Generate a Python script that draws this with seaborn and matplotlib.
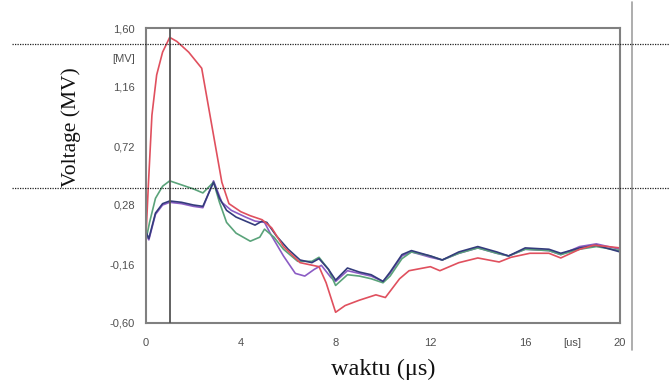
import numpy as np
import pandas as pd
import matplotlib
matplotlib.use("Agg")
import matplotlib.pyplot as plt
import seaborn as sns
from matplotlib.lines import Line2D

# ---- data ----
x_red = [0, 0.1, 0.25, 0.45, 0.7, 1.0, 1.3, 1.8, 2.35, 2.7, 3.2, 3.5, 4.0, 4.4, 4.9, 5.3, 5.8, 6.5,
         7.3, 7.6, 8.0, 8.4, 9.0, 9.7, 10.1, 10.7, 11.1, 12.0, 12.4, 13.2, 14.0, 14.9, 15.4,
         16.2, 17.0, 17.5, 18.3, 18.9, 19.5, 20.0]
y_red = [0.05, 0.43, 0.95, 1.25, 1.42, 1.53, 1.50, 1.42, 1.30, 0.95, 0.45, 0.29, 0.23, 0.20, 0.17,
         0.11, -0.03, -0.15, -0.18, -0.30, -0.52, -0.47, -0.43, -0.39, -0.41, -0.27, -0.21,
         -0.18, -0.21, -0.15, -0.115, -0.145, -0.11, -0.08, -0.08, -0.115, -0.05, -0.02, -0.03, -0.04]

x_green = [0, 0.15, 0.4, 0.7, 1.0, 1.5, 2.0, 2.4, 2.85, 3.1, 3.4, 3.8, 4.4, 4.8, 5.0, 5.4, 5.8, 6.4,
           7.0, 7.3, 7.7, 8.0, 8.5, 9.0, 9.5, 10.0, 10.3, 10.8, 11.2, 12.0, 12.5, 13.2, 14.0,
           14.8, 15.3, 16.0, 17.0, 17.5, 18.3, 19.0, 20.0]
y_green = [0.02, 0.15, 0.33, 0.42, 0.46, 0.43, 0.40, 0.37, 0.45, 0.30, 0.15, 0.07, 0.01, 0.04, 0.10,
           0.04, -0.05, -0.14, -0.14, -0.11, -0.20, -0.32, -0.24, -0.25, -0.27, -0.30, -0.25,
           -0.12, -0.07, -0.10, -0.13, -0.08, -0.04, -0.08, -0.10, -0.05, -0.06, -0.09, -0.05,
           -0.03, -0.06]

x_navy = [0, 0.12, 0.4, 0.7, 1.0, 1.5, 2.0, 2.4, 2.85, 3.1, 3.4, 3.8, 4.2, 4.6, 4.9, 5.1, 5.5, 6.0,
          6.5, 7.0, 7.3, 7.7, 8.0, 8.5, 9.0, 9.5, 10.0, 10.3, 10.8, 11.2, 12.0, 12.5, 13.2, 14.0,
          14.8, 15.3, 16.0, 17.0, 17.5, 18.3, 19.0, 20.0]
y_navy = [0.08, 0.03, 0.22, 0.29, 0.31, 0.30, 0.28, 0.27, 0.45, 0.33, 0.24, 0.19, 0.16, 0.13, 0.16,
          0.15, 0.05, -0.05, -0.13, -0.15, -0.12, -0.20, -0.28, -0.19, -0.22, -0.24, -0.29,
          -0.22, -0.09, -0.06, -0.10, -0.13, -0.07, -0.03, -0.07, -0.10, -0.04, -0.05, -0.08,
          -0.04, -0.02, -0.07]

x_purple = [0, 0.12, 0.4, 0.7, 1.0, 1.5, 2.0, 2.4, 2.85, 3.2, 3.6, 4.2, 4.6, 5.0, 5.3, 5.8, 6.3,
            6.7, 7.1, 7.4, 7.8, 8.0, 8.5, 9.0, 9.5, 10.0, 10.3, 10.8, 11.2, 12.0, 12.5, 13.2,
            14.0, 14.8, 15.3, 16.0, 17.0, 17.5, 18.3, 19.0, 20.0]
y_purple = [0.06, 0.02, 0.21, 0.28, 0.30, 0.29, 0.27, 0.26, 0.46, 0.30, 0.24, 0.19, 0.16, 0.15,
            0.05, -0.10, -0.23, -0.25, -0.20, -0.17, -0.26, -0.29, -0.21, -0.23, -0.25, -0.29,
            -0.23, -0.10, -0.07, -0.11, -0.13, -0.08, -0.04, -0.08, -0.10, -0.05, -0.06, -0.09,
            -0.03, -0.01, -0.05]

y_ticks = [-0.60, -0.16, 0.28, 0.72, 1.16, 1.60]
y_ticklabels = ["-0,60", "-0,16", "0,28", "0,72", "1,16", "1,60"]
x_ticks = [0, 4, 8, 12, 16, 20]
x_ticklabels = ["0", "4", "8", "12", "16", "20"]
y_unit = "[MV]"
x_unit = "[us]"

series = {"purple": (x_purple, y_purple), "green": (x_green, y_green),
          "navy": (x_navy, y_navy), "red": (x_red, y_red)}
df = pd.concat([pd.DataFrame({"t": xs, "v": ys, "s": name}) for name, (xs, ys) in series.items()])
palette = {"red": "#e0505e", "green": "#5aa37a", "navy": "#343c7c", "purple": "#8b5cc4"}

sns.set_theme(style="white")
fig = plt.figure(figsize=(6.7, 3.81), dpi=100)
ax = fig.add_axes([146/670, 1-323/381, (620-146)/670, (323-28)/381])
sns.lineplot(data=df, x="t", y="v", hue="s", palette=palette, ax=ax, legend=False,
             linewidth=1.2, sort=False, estimator=None)

ax.set_xlim(0, 20)
ax.set_ylim(-0.60, 1.60)
ax.axvline(1.0, color="#555555", lw=1.3, zorder=5)

tick_font = ["Liberation Sans", "DejaVu Sans"]
# ticks
ax.set_yticks(y_ticks)
ax.set_yticklabels(y_ticklabels, family=tick_font)
ymin = [(a + b) / 2 for a, b in zip(y_ticks[:-1], y_ticks[1:])]
ax.set_yticks(ymin, minor=True)
ax.set_yticklabels(["" for _ in ymin[:-1]] + [y_unit], minor=True, family=tick_font)
ax.set_xticks(x_ticks)
ax.set_xticklabels(x_ticklabels, family=tick_font)
xmin = [2, 6, 10, 14, 18]
ax.set_xticks(xmin, minor=True)
ax.set_xticklabels(["", "", "", "", x_unit], minor=True, family=tick_font)
ax.tick_params(axis="both", which="both", direction="out", colors="#777777",
               labelcolor="#505050", labelsize=8, width=1.2)
ax.tick_params(axis="both", which="major", length=5)
ax.tick_params(axis="both", which="minor", length=3)
ax.tick_params(axis="x", which="major", pad=6)
ax.tick_params(axis="x", which="minor", pad=8)
ax.tick_params(axis="y", which="major", pad=3)
ax.tick_params(axis="y", which="minor", pad=5)
ax.set_xlabel("")
ax.set_ylabel("")
for sp in ax.spines.values():
    sp.set_color("#808080")
    sp.set_linewidth(1.5)

# figure decorations
fig.add_artist(Line2D([632/670, 632/670], [1-2/381, 1-350/381], transform=fig.transFigure,
                      color="#a0a0a0", lw=1.2))
for py in (44, 188):
    fig.add_artist(Line2D([12/670, 1.0], [1-py/381, 1-py/381], transform=fig.transFigure,
                          color="#222222", lw=0.9, ls=(0, (1, 1))))

serif = ["Liberation Serif", "DejaVu Serif"]
fig.text(71/670, 1-127/381, "Voltage (MV)", rotation=90, ha="center", va="center",
         fontsize=15.5, family=serif, color="#111111")
fig.text(383/670, 1.5/381, "waktu (μs)", ha="center", va="bottom",
         fontsize=17.5, family=serif, color="#111111")

fig.savefig("out.png", dpi=100)
